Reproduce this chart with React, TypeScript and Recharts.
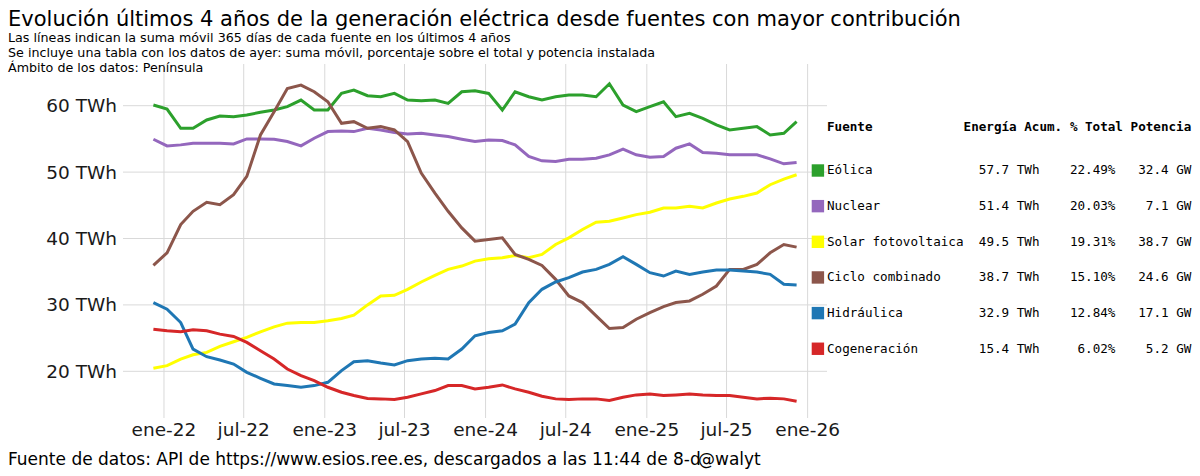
import React from "react";
import { LineChart, Line, XAxis, YAxis, CartesianGrid } from "recharts";

// Muestras mensuales de la suma móvil 365 días (TWh)
const DATES = [
  "2021-12-08", "2022-01-08", "2022-02-08", "2022-03-08", "2022-04-08", "2022-05-08",
  "2022-06-08", "2022-07-08", "2022-08-08", "2022-09-08", "2022-10-08", "2022-11-08",
  "2022-12-08", "2023-01-08", "2023-02-08", "2023-03-08", "2023-04-08", "2023-05-08",
  "2023-06-08", "2023-07-08", "2023-08-08", "2023-09-08", "2023-10-08", "2023-11-08",
  "2023-12-08", "2024-01-08", "2024-02-08", "2024-03-08", "2024-04-08", "2024-05-08",
  "2024-06-08", "2024-07-08", "2024-08-08", "2024-09-08", "2024-10-08", "2024-11-08",
  "2024-12-08", "2025-01-08", "2025-02-08", "2025-03-08", "2025-04-08", "2025-05-08",
  "2025-06-08", "2025-07-08", "2025-08-08", "2025-09-08", "2025-10-08", "2025-11-08",
  "2025-12-07",
];

const EOLICA = [
  60.1, 59.5, 56.6, 56.6, 57.85, 58.45, 58.35, 58.6, 59.0, 59.35, 59.85, 60.85,
  59.35, 59.35, 61.85, 62.35, 61.5, 61.35, 61.85, 60.85, 60.75, 60.85, 60.35, 62.1,
  62.25, 61.85, 59.35, 62.1, 61.35, 60.85, 61.35, 61.6, 61.6, 61.35, 63.3, 60.1,
  59.1, 59.85, 60.6, 58.35, 58.85, 58.1, 57.1, 56.35, 56.6, 56.85, 55.6, 55.85,
  57.6,
];
const NUCLEAR = [
  54.95, 53.95, 54.1, 54.35, 54.35, 54.35, 54.25, 55.0, 55.0, 54.95, 54.6, 53.95,
  55.1, 56.1, 56.2, 56.1, 56.6, 56.35, 55.95, 55.75, 55.85, 55.6, 55.35, 54.95,
  54.6, 54.85, 54.75, 54.1, 52.35, 51.7, 51.6, 51.95, 51.95, 52.1, 52.6, 53.45,
  52.6, 52.25, 52.35, 53.6, 54.25, 52.95, 52.85, 52.6, 52.6, 52.6, 52.0, 51.25,
  51.45,
];
const SOLAR = [
  20.45, 20.85, 21.85, 22.5, 22.85, 23.75, 24.45, 25.1, 25.95, 26.7, 27.25, 27.35,
  27.35, 27.6, 27.95, 28.45, 30.0, 31.35, 31.45, 32.35, 33.45, 34.45, 35.35, 35.85,
  36.6, 36.95, 37.1, 37.45, 37.1, 37.6, 39.1, 40.1, 41.35, 42.45, 42.6, 43.1,
  43.6, 43.95, 44.6, 44.6, 44.85, 44.6, 45.35, 45.95, 46.35, 46.85, 48.1, 48.95,
  49.6,
];
const CICLO = [
  35.95, 37.85, 42.1, 44.1, 45.45, 45.1, 46.6, 49.35, 55.6, 59.1, 62.6, 63.1,
  62.1, 60.6, 57.35, 57.6, 56.6, 56.85, 56.35, 54.6, 49.85, 46.85, 44.1, 41.6,
  39.6, 39.85, 40.1, 37.6, 36.85, 35.95, 33.85, 31.35, 30.35, 28.35, 26.45, 26.6,
  27.85, 28.85, 29.75, 30.35, 30.6, 31.6, 32.85, 35.35, 35.35, 36.1, 37.85, 39.1,
  38.7,
];
const HIDRAULICA = [
  30.35, 29.35, 27.35, 23.35, 22.2, 21.7, 21.1, 19.85, 18.95, 18.1, 17.85, 17.6,
  17.85, 18.35, 20.1, 21.45, 21.6, 21.25, 20.95, 21.6, 21.85, 21.95, 21.85, 23.35,
  25.35, 25.85, 26.1, 27.1, 30.35, 32.35, 33.45, 34.1, 34.95, 35.35, 36.1, 37.25,
  36.1, 34.85, 34.35, 35.1, 34.6, 34.95, 35.25, 35.25, 35.1, 34.95, 34.6, 33.1,
  33.0,
];
const COGENERACION = [
  26.35, 26.1, 25.95, 26.25, 26.1, 25.6, 25.25, 24.35, 23.1, 21.85, 20.35, 19.35,
  18.6, 17.6, 16.85, 16.35, 15.9, 15.85, 15.75, 16.1, 16.6, 17.1, 17.85, 17.85,
  17.35, 17.6, 17.95, 17.35, 16.85, 16.25, 15.85, 15.75, 15.85, 15.85, 15.6, 16.1,
  16.45, 16.6, 16.35, 16.45, 16.6, 16.45, 16.35, 16.35, 16.1, 15.85, 15.95, 15.85,
  15.5,
];

const X_TICK_DATES = [
  "2022-01-01", "2022-07-01", "2023-01-01", "2023-07-01", "2024-01-01",
  "2024-07-01", "2025-01-01", "2025-07-01", "2026-01-01",
];
const Y_TICKS = [20, 30, 40, 50, 60];

// Tabla con los datos de ayer
const TABLE_NAMES = ["Eólica", "Nuclear", "Solar fotovoltaica", "Ciclo combinado", "Hidráulica", "Cogeneración"];
const TABLE_ENERGY = ["57.7 TWh", "51.4 TWh", "49.5 TWh", "38.7 TWh", "32.9 TWh", "15.4 TWh"];
const TABLE_PCT = ["22.49%", "20.03%", "19.31%", "15.10%", "12.84%", "6.02%"];
const TABLE_POWER = ["32.4 GW", "7.1 GW", "38.7 GW", "24.6 GW", "17.1 GW", "5.2 GW"];

const SERIES = [
  { key: "eolica", color: "#2ca02c", values: EOLICA },
  { key: "nuclear", color: "#9467bd", values: NUCLEAR },
  { key: "solar", color: "#ffff00", values: SOLAR },
  { key: "ciclo", color: "#8c564b", values: CICLO },
  { key: "hidraulica", color: "#1f77b4", values: HIDRAULICA },
  { key: "cogeneracion", color: "#d62728", values: COGENERACION },
];

const toTime = (d: string) => Date.parse(d + "T00:00:00Z");
const MONTHS = ["ene", "feb", "mar", "abr", "may", "jun", "jul", "ago", "sep", "oct", "nov", "dic"];
const fmtDate = (t: number) => {
  const d = new Date(t);
  return `${MONTHS[d.getUTCMonth()]}-${String(d.getUTCFullYear()).slice(2)}`;
};

const rows = DATES.map((d, i) => {
  const row: Record<string, number> = { t: toTime(d) };
  SERIES.forEach((s) => {
    row[s.key] = s.values[i];
  });
  return row;
});

const X_TICKS = X_TICK_DATES.map(toTime);
const X_DOMAIN = [toTime("2021-09-30"), toTime("2026-02-14")];
const Y_DOMAIN = [12.97, 66.28];
const SANS = "DejaVu Sans";
const MONO = "DejaVu Sans Mono";
const CH = 7.59; // ancho de carácter monoespaciado
const TX = 827;

// rejilla solo en los ticks (sin marco en los bordes del área)
const vGrid = ({ offset }: any) =>
  X_TICKS.map((t) => offset.left + ((t - X_DOMAIN[0]) / (X_DOMAIN[1] - X_DOMAIN[0])) * offset.width);
const hGrid = ({ offset }: any) =>
  Y_TICKS.map((v) => offset.top + ((Y_DOMAIN[1] - v) / (Y_DOMAIN[1] - Y_DOMAIN[0])) * offset.height);

export default function App() {
  return (
    <div style={{ position: "fixed", left: 0, top: 0, width: 1200, height: 476, background: "#fff" }}>
      <LineChart width={1200} height={476} data={rows} margin={{ top: 64, right: 373, bottom: 0, left: 0 }}>
        <CartesianGrid
          stroke="#d9d9d9"
          strokeWidth={1}
          verticalCoordinatesGenerator={vGrid}
          horizontalCoordinatesGenerator={hGrid}
        />
        <XAxis
          dataKey="t"
          type="number"
          domain={X_DOMAIN}
          ticks={X_TICKS}
          tickFormatter={fmtDate}
          interval={0}
          height={58}
          tickLine={false}
          axisLine={false}
          tickSize={0}
          tickMargin={5}
          allowDataOverflow
          tick={{ fontSize: 18.5, fill: "#1a1a1a", fontFamily: SANS }}
        />
        <YAxis
          type="number"
          domain={Y_DOMAIN}
          ticks={Y_TICKS}
          tickFormatter={(v: number) => `${v} TWh`}
          interval={0}
          width={123}
          tickLine={false}
          axisLine={false}
          tickSize={0}
          tickMargin={6}
          allowDataOverflow
          tick={{ fontSize: 18.5, fill: "#1a1a1a", fontFamily: SANS }}
        />
        {SERIES.map((s) => (
          <Line
            key={s.key}
            dataKey={s.key}
            stroke={s.color}
            strokeWidth={3}
            dot={false}
            type="linear"
            isAnimationActive={false}
          />
        ))}
      </LineChart>
      <svg
        width={1200}
        height={476}
        style={{ position: "absolute", left: 0, top: 0, pointerEvents: "none" }}
      >
        <g fontFamily={SANS} fill="#000">
          <text x={8} y={26} fontSize={21}>
            Evolución últimos 4 años de la generación eléctrica desde fuentes con mayor contribución
          </text>
          <text x={8} y={41.5} fontSize={12.7}>
            Las líneas indican la suma móvil 365 días de cada fuente en los últimos 4 años
          </text>
          <text x={8} y={56.5} fontSize={12.7}>
            Se incluye una tabla con los datos de ayer: suma móvil, porcentaje sobre el total y potencia instalada
          </text>
          <text x={8} y={72} fontSize={12.7}>
            Ámbito de los datos: Península
          </text>
          <text x={8} y={465} fontSize={17}>
            Fuente de datos: API de https://www.esios.ree.es, descargados a las 11:44 de 8-d
          </text>
          <text x={698} y={465} fontSize={17}>
            @walyt
          </text>
        </g>
        <g fontFamily={MONO} fontSize={12.6} fill="#000">
          <text fontWeight="bold" y={131.3}>
            <tspan x={TX}>Fuente</tspan>
            <tspan x={TX + 18 * CH}>Energía Acum.</tspan>
            <tspan x={TX + 32 * CH}>% Total</tspan>
            <tspan x={TX + 40 * CH}>Potencia</tspan>
          </text>
          {TABLE_NAMES.map((name, i) => {
            const y = 174.3 + i * 35.65;
            return (
              <g key={name}>
                <rect x={811.7} y={y - 10} width={12.4} height={12.4} fill={SERIES[i].color} />
                <text x={TX} y={y}>{name}</text>
                <text x={TX + 28 * CH} y={y} textAnchor="end">{TABLE_ENERGY[i]}</text>
                <text x={TX + 38 * CH} y={y} textAnchor="end">{TABLE_PCT[i]}</text>
                <text x={TX + 48 * CH} y={y} textAnchor="end">{TABLE_POWER[i]}</text>
              </g>
            );
          })}
        </g>
      </svg>
    </div>
  );
}
